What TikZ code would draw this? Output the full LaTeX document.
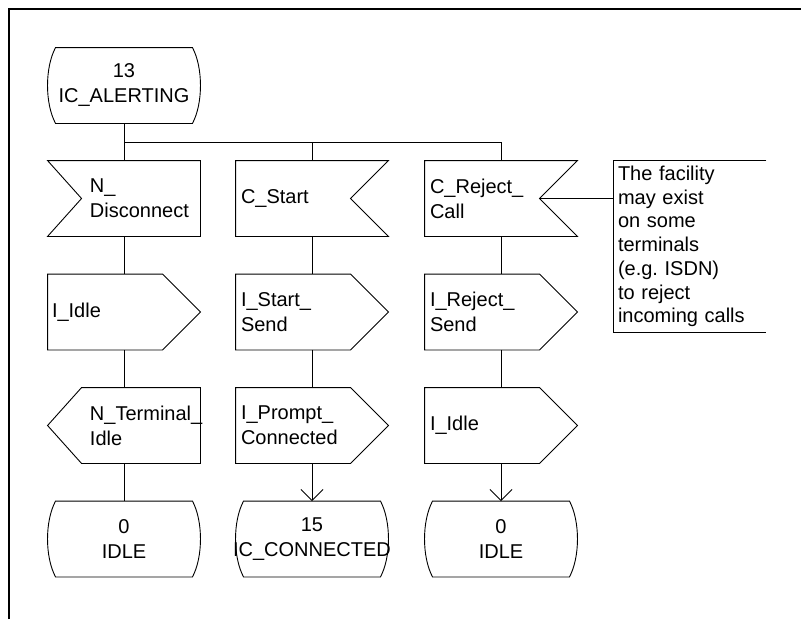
\documentclass[tikz,border=0pt]{standalone}
\usepackage{fontspec}
\setmainfont{Liberation Sans}
\usetikzlibrary{calc,arrows.meta}
\hyphenpenalty=10000 \exhyphenpenalty=10000
\frenchspacing
\newcommand\shpInL[1]{\draw (#1.north west) -- (#1.north east) -- (#1.south east) -- (#1.south west) -- ($(#1.west)+(34,0)$) -- cycle;}
\newcommand\shpInR[1]{\draw (#1.north west) -- (#1.north east) -- ($(#1.east)+(-38,0)$) -- (#1.south east) -- (#1.south west) -- cycle;}
\newcommand\shpOutR[1]{\draw (#1.north west) -- ($(#1.north east)+(-38,0)$) -- (#1.east) -- ($(#1.south east)+(-38,0)$) -- (#1.south west) -- cycle;}
\newcommand\shpOutL[1]{\draw ($(#1.north west)+(34,0)$) -- (#1.north east) -- (#1.south east) -- ($(#1.south west)+(34,0)$) -- (#1.west) -- cycle;}
\newcommand\shpState[1]{\draw ($(#1.north west)+(8,0)$) -- ($(#1.north east)+(-8,0)$) .. controls ($(#1.north east)+(2.7,20)$) and ($(#1.south east)+(2.7,-20)$) .. ($(#1.south east)+(-8,0)$) -- ($(#1.south west)+(8,0)$) .. controls ($(#1.south west)+(-2.7,-20)$) and ($(#1.north west)+(-2.7,20)$) .. ($(#1.north west)+(8,0)$) -- cycle;}
\begin{document}
\begin{tikzpicture}[x=1pt,y=-1pt, line width=0.9pt,
  box/.style={draw=none, rectangle, inner sep=0pt, minimum width=152pt, minimum height=75pt, text width=152pt, font=\fontsize{20}{25}\selectfont},
  lft/.style={box, align=left, execute at begin node={\leftskip=#1\relax}},
  ctr/.style={box, align=center},
  note/.style={lft=4pt, font=\fontsize{20}{23.7}\selectfont},
  arr/.style={-{Straight Barb[length=11pt,width=22pt]}},
  frame/.style={line width=2pt}]
\useasboundingbox (0,0) rectangle (801,619);
\draw[frame] (9,619) -- (9,9) -- (801,9);

\node[ctr] (s0) at (124,85.5) {13\\IC\_ALERTING};
\node[lft=42pt] (i1) at (124,198.5) {N\_\\Disconnect};
\node[lft=5pt] (i2) at (312,198.5) {C\_Start};
\node[lft=5pt] (i3) at (501,198.5) {C\_Reject\_\\Call};
\node[lft=4pt] (o1) at (124,312) {I\_Idle};
\node[lft=5pt] (o2) at (312,312) {I\_Start\_\\Send};
\node[lft=5pt] (o3) at (501,312) {I\_Reject\_\\Send};
\node[lft=42pt] (p1) at (124,425.5) {N\_Terminal\_\\Idle};
\node[lft=5pt] (p2) at (312,425.5) {I\_Prompt\_\\Connected};
\node[lft=5pt] (p3) at (501,425.5) {I\_Idle};
\node[ctr] (e1) at (124,539) {0\\IDLE};
\node[ctr] (e2) at (312,539) {15\\\makebox[0pt]{IC\_CONNECTED}};
\node[ctr] (e3) at (501,539) {0\\IDLE};
\node[note, minimum height=171pt] (cm) at (690,246.5) {The facility\\may exist\\on some\\terminals\\(e.g. ISDN)\\to reject\\incoming calls};

\shpState{s0}
\shpInL{i1} \shpInR{i2} \shpInR{i3}
\shpOutR{o1} \shpOutR{o2} \shpOutR{o3}
\shpOutL{p1} \shpOutR{p2} \shpOutR{p3}
\shpState{e1} \shpState{e2} \shpState{e3}

\coordinate (bus) at (0,142);
\draw (s0.south) -- (i1.north);
\draw (s0.south |- bus) -- (i3.north |- bus) -- (i3.north);
\draw (i2.north |- bus) -- (i2.north);
\draw (i1.south) -- (o1.north);
\draw (o1.south) -- (p1.north);
\draw (p1.south) -- (e1.north);
\draw (i2.south) -- (o2.north);
\draw (o2.south) -- (p2.north);
\draw[arr] (p2.south) -- (e2.north);
\draw (i3.south) -- (o3.north);
\draw (o3.south) -- (p3.north);
\draw[arr] (p3.south) -- (e3.north);

\coordinate (nt) at ($(i3.east)+(-38,0)$);
\draw (nt) -- (nt -| cm.west);
\draw (cm.north east) -- (cm.north west) -- (cm.south west) -- (cm.south east);
\end{tikzpicture}
\end{document}
